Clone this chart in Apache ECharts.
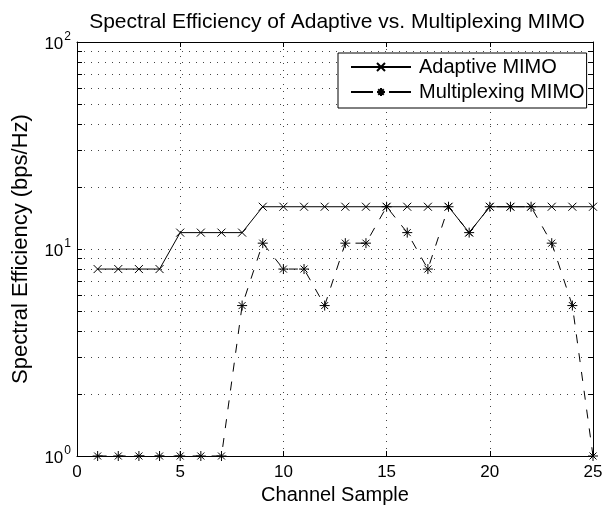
<!DOCTYPE html>
<html>
<head>
<meta charset="utf-8">
<title>Spectral Efficiency of Adaptive vs. Multiplexing MIMO</title>
<script src="https://cdn.jsdelivr.net/npm/echarts@6/dist/echarts.min.js"></script>
<style>
  html, body { margin: 0; padding: 0; background: #fff; }
  #chart { width: 612px; height: 508px; }
</style>
</head>
<body>
<div id="chart"></div>
<script>
// Channel samples and spectral efficiency (bps/Hz) per scheme
const samples = [1, 2, 3, 4, 5, 6, 7, 8, 9, 10, 11, 12, 13, 14, 15, 16, 17, 18, 19, 20, 21, 22, 23, 24, 25];
const adaptive = [8, 8, 8, 8, 12, 12, 12, 12, 16, 16, 16, 16, 16, 16, 16, 16, 16, 16, 12, 16, 16, 16, 16, 16, 16];
const multiplexing = [1, 1, 1, 1, 1, 1, 1, 5.33, 10.67, 8, 8, 5.33, 10.67, 10.67, 16, 12, 8, 16, 12, 16, 16, 16, 10.67, 5.33, 1];

// Axis ticks
const xTicks = [0, 5, 10, 15, 20, 25];
const yDecades = [1, 10, 100];
const yMinor = [2, 3, 4, 5, 6, 7, 8, 9, 20, 30, 40, 50, 60, 70, 80, 90];

const FONT = 'Liberation Sans, Arial, Helvetica, sans-serif';
const DOT = [1, 6];
const DASH = [9, 10];

// Stroke-only marker shapes
const CROSS = 'path://M0,0L10,10M10,0L0,10';
const STAR = 'path://M5,0L5,10M0,5L10,5M1.5,1.5L8.5,8.5M8.5,1.5L1.5,8.5';

const chart = echarts.init(document.getElementById('chart'), null, { renderer: 'canvas' });

function decadeLabel(v) {
  const e = Math.round(Math.log10(v));
  return '{b|10}{s|' + e + '}';
}

const labelRich = {
  b: { fontFamily: FONT, fontSize: 17, color: '#000', padding: [4, 0, 0, 0] },
  s: { fontFamily: FONT, fontSize: 12, color: '#000', padding: [0, 0, 10, 1] }
};

const option = {
  backgroundColor: '#fff',
  animation: false,
  title: {
    text: 'Spectral Efficiency of Adaptive vs. Multiplexing MIMO',
    left: 332,
    textAlign: 'center',
    top: 7,
    textStyle: { fontFamily: FONT, fontSize: 21, fontWeight: 'normal', color: '#000' }
  },
  legend: {
    data: [
      { name: 'Adaptive MIMO' },
      { name: 'Multiplexing MIMO', lineStyle: { type: [22, 16] } }
    ],
    orient: 'vertical',
    left: 338,
    top: 53,
    padding: [4, 2, 6, 12],
    itemGap: 5,
    itemWidth: 60,
    itemHeight: 10,
    backgroundColor: '#fff',
    borderColor: '#000',
    borderWidth: 1,
    borderRadius: 0,
    textStyle: { fontFamily: FONT, fontSize: 20, color: '#000', padding: [0, 0, 0, 3] }
  },
  grid: { left: 77, right: 19, top: 42, bottom: 52, containLabel: false, outerBoundsMode: 'none' },
  xAxis: [
    {
      type: 'value', min: 0, max: 25, interval: 5,
      name: 'Channel Sample', nameLocation: 'middle', nameGap: 28,
      nameTextStyle: { fontFamily: FONT, fontSize: 20, color: '#000' },
      axisLine: { show: true, onZero: false, lineStyle: { color: '#000', width: 1 } },
      axisTick: { show: true, inside: true, length: 5, lineStyle: { color: '#000' } },
      axisLabel: { margin: 8, fontFamily: FONT, fontSize: 17, color: '#000',
        customValues: xTicks },
      splitLine: { show: true, lineStyle: { color: '#444', type: DOT, width: 1 } }
    },
    {
      type: 'value', min: 0, max: 25, interval: 5, position: 'top',
      axisLine: { show: true, onZero: false, lineStyle: { color: '#000', width: 1 } },
      axisTick: { show: true, inside: true, length: 5, lineStyle: { color: '#000' } },
      axisLabel: { show: false },
      splitLine: { show: false }
    }
  ],
  yAxis: [
    {
      type: 'log', logBase: 10, min: 1, max: 100,
      name: 'Spectral Efficiency (bps/Hz)', nameLocation: 'middle', nameGap: 45,
      nameTextStyle: { fontFamily: FONT, fontSize: 22, color: '#000' },
      axisLine: { show: true, onZero: false, lineStyle: { color: '#000', width: 1 } },
      axisTick: { show: true, inside: true, length: 5, lineStyle: { color: '#000' } },
      axisLabel: { margin: 6, formatter: decadeLabel, rich: labelRich, customValues: yDecades },
      splitLine: { show: true, lineStyle: { color: '#444', type: DOT, width: 1 } }
    },
    {
      type: 'log', logBase: 10, min: 1, max: 100, position: 'right',
      axisLine: { show: true, onZero: false, lineStyle: { color: '#000', width: 1 } },
      axisTick: { show: true, inside: true, length: 5, lineStyle: { color: '#000' } },
      axisLabel: { show: false },
      splitLine: { show: false }
    }
  ],
  series: [
    {
      // minor decade gridlines and edge ticks
      type: 'custom',
      name: 'minor',
      silent: true,
      z: 1,
      clip: false,
      data: yMinor.map(v => [0, v]),
      renderItem: function (params, api) {
        const v = api.value(1);
        const l = api.coord([0, v]);
        const r = api.coord([25, v]);
        const y = Math.round(l[1]) + 0.5;
        return {
          type: 'group',
          children: [
            { type: 'line', shape: { x1: l[0], y1: y, x2: r[0], y2: y },
              style: { stroke: '#444', lineWidth: 1, lineDash: DOT } },
            { type: 'line', shape: { x1: l[0], y1: y, x2: l[0] + 5, y2: y },
              style: { stroke: '#000', lineWidth: 1 } },
            { type: 'line', shape: { x1: r[0] - 5, y1: y, x2: r[0], y2: y },
              style: { stroke: '#000', lineWidth: 1 } }
          ]
        };
      }
    },
    {
      name: 'Adaptive MIMO',
      type: 'line',
      z: 3,
      clip: false,
      data: samples.map((s, i) => [s, adaptive[i]]),
      symbol: CROSS,
      symbolSize: 8,
      showAllSymbol: true,
      lineStyle: { color: '#000', width: 1, type: 'solid' },
      itemStyle: { color: 'rgba(0,0,0,0)', borderColor: '#000', borderWidth: 1 }
    },
    {
      name: 'Multiplexing MIMO',
      type: 'line',
      z: 2,
      clip: false,
      data: samples.map((s, i) => [s, multiplexing[i]]),
      symbol: STAR,
      symbolSize: 10,
      showAllSymbol: true,
      lineStyle: { color: '#000', width: 1, type: DASH },
      itemStyle: { color: 'rgba(0,0,0,0)', borderColor: '#000', borderWidth: 1 }
    }
  ]
};

chart.setOption(option);
</script>
</body>
</html>
